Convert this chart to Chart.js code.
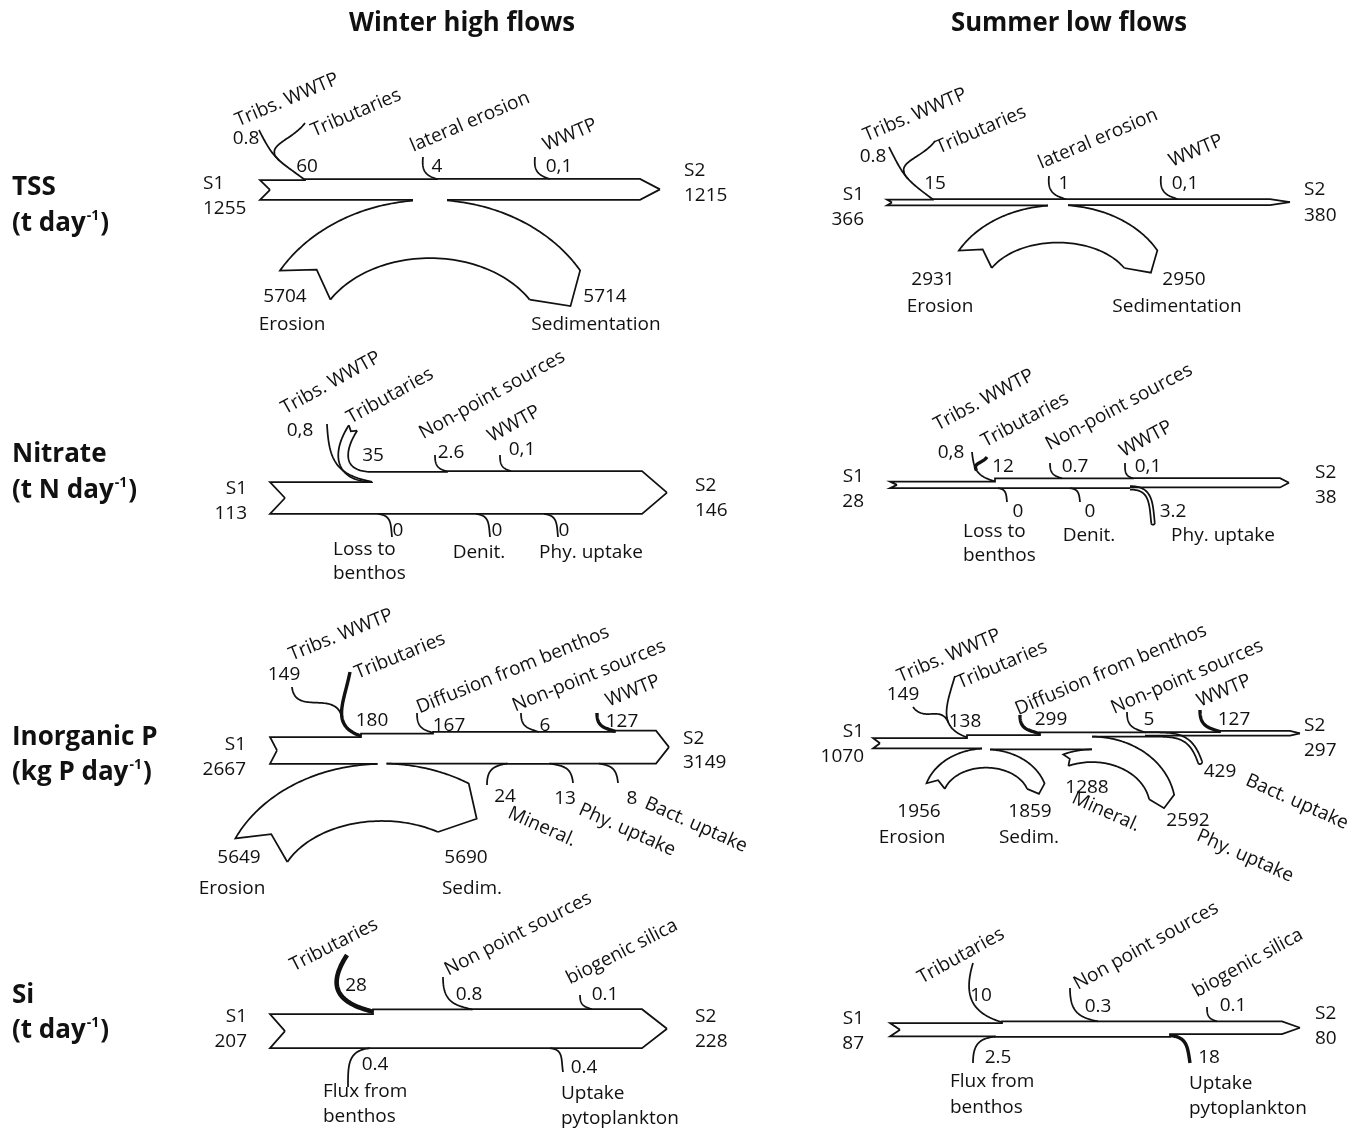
<!DOCTYPE html>
<html>
<head>
<meta charset="utf-8">
<title>Seine river budgets: winter high flows and summer low flows</title>
<script src="https://cdn.jsdelivr.net/npm/chart.js@4.4.1/dist/chart.umd.min.js"></script>
<style>
  html, body { margin: 0; padding: 0; background: #ffffff; }
  #wrap { width: 1349px; height: 1132px; }
  canvas { display: block; }
</style>
</head>
<body>
<div id="wrap"><canvas id="budget" width="1349" height="1132"></canvas></div>
<script>
// ---------------------------------------------------------------
// Flux values (first entry = upstream station S1, last = S2)
// ---------------------------------------------------------------

// TSS, t day-1
const tssNames = ['S1', 'Tribs. WWTP', 'Tributaries', 'lateral erosion', 'WWTP', 'Erosion', 'Sedimentation', 'S2'];
const tssWinterValues = [1255, 0.8, 60, 4, 0.1, 5704, 5714, 1215];
const tssWinterText = ['1255', '0.8', '60', '4', '0,1', '5704', '5714', '1215'];
const tssSummerValues = [366, 0.8, 15, 1, 0.1, 2931, 2950, 380];
const tssSummerText = ['366', '0.8', '15', '1', '0,1', '2931', '2950', '380'];

// Nitrate, t N day-1
const no3Names = ['S1', 'Tribs. WWTP', 'Tributaries', 'Non-point sources', 'WWTP', 'Loss to\nbenthos', 'Denit.', 'Phy. uptake', 'S2'];
const no3WinterValues = [113, 0.8, 35, 2.6, 0.1, 0, 0, 0, 146];
const no3WinterText = ['113', '0,8', '35', '2.6', '0,1', '0', '0', '0', '146'];
const no3SummerValues = [28, 0.8, 12, 0.7, 0.1, 0, 0, 3.2, 38];
const no3SummerText = ['28', '0,8', '12', '0.7', '0,1', '0', '0', '3.2', '38'];

// Inorganic P, kg P day-1
const pNames = ['S1', 'Tribs. WWTP', 'Tributaries', 'Diffusion from benthos', 'Non-point sources', 'WWTP',
                'Erosion', 'Sedim.', 'Mineral.', 'Phy. uptake', 'Bact. uptake', 'S2'];
const pWinterValues = [2667, 149, 180, 167, 6, 127, 5649, 5690, 24, 13, 8, 3149];
const pWinterText = ['2667', '149', '180', '167', '6', '127', '5649', '5690', '24', '13', '8', '3149'];
const pSummerValues = [1070, 149, 138, 299, 5, 127, 1956, 1859, 1288, 2592, 429, 297];
const pSummerText = ['1070', '149', '138', '299', '5', '127', '1956', '1859', '1288', '2592', '429', '297'];

// Si, t day-1
const siNames = ['S1', 'Tributaries', 'Non point sources', 'biogenic silica', 'Flux from\nbenthos', 'Uptake\npytoplankton', 'S2'];
const siWinterValues = [207, 28, 0.8, 0.1, 0.4, 0.4, 228];
const siWinterText = ['207', '28', '0.8', '0.1', '0.4', '0.4', '228'];
const siSummerValues = [87, 10, 0.3, 0.1, 2.5, 18, 80];
const siSummerText = ['87', '10', '0.3', '0.1', '2.5', '18', '80'];

// Column and row headings
const seasonTitles = ['Winter high flows', 'Summer low flows'];
const rowTitles = ['TSS', 'Nitrate', 'Inorganic P', 'Si'];
const rowUnits = ['(t day', '(t N day', '(kg P day', '(t day'];

// ---------------------------------------------------------------
// Layout of every budget diagram (chart units = canvas pixels)
// k : drawn width per unit of flux; widths come from the values above
// ---------------------------------------------------------------
const W = 1349, H = 1132;
const INK = '#111111';
const FAMILY = "'Open Sans', 'Noto Sans', 'DejaVu Sans', sans-serif";
const BODY = 19;
const STROKE = 1.75;
const MIN_H = 3.5;
const MIN_BAND = 3.5;

const panels = [
  { // TSS winter
    names: tssNames, values: tssWinterValues, text: tssWinterText, k: 0.0159, kLoop: 0.0102, rot: -23,
    river: { x0: 260, xEnd: 640, tip: 660, top: 180, notch: 10 },
    s1: { x: 203, y: [184, 209], align: 'left' }, s2: { x: 684, y: [171, 196], align: 'left' },
    flows: [
      { i: 1, at: 305, from: [259, 130], t0: [0.45, 0.9], t1: [0.8, 0.6], val: [246, 139], lab: [287, 100] },
      { i: 2, merge: 1, mt: 0.55, from: [305, 123], t0: [-0.6, 0.8], val: [307, 167], lab: [356, 113] },
      { i: 3, at: 437, from: [423, 157], t0: [-0.1, 1], val: [437, 167], lab: [470, 122] },
      { i: 4, at: 550, from: [535, 157], t0: [-0.1, 1], val: [559, 167], lab: [570, 135] }
    ],
    loops: [
      { iin: 5, iout: 6, cx: 430, gap: 17, ai: 115, bi: 83, thL: -60, thR: 60,
        valIn: [285, 297], valOut: [605, 297], labIn: [292, 325], labOut: [596, 325] }
    ]
  },
  { // TSS summer
    names: tssNames, values: tssSummerValues, text: tssSummerText, k: 0.0159, kLoop: 0.0127, rot: -23,
    river: { x0: 887, xEnd: 1270, tip: 1290, top: 199.5, notch: 5 },
    s1: { x: 864, y: [195, 220], align: 'right' }, s2: { x: 1304, y: [190, 216], align: 'left' },
    flows: [
      { i: 1, at: 933, from: [889, 147], t0: [0.45, 0.9], t1: [0.8, 0.6], val: [873, 157], lab: [915, 115] },
      { i: 2, merge: 1, mt: 0.55, from: [935, 141], t0: [-0.6, 0.8], val: [935, 184], lab: [981, 130] },
      { i: 3, at: 1066, from: [1049, 176], t0: [-0.1, 1], val: [1064, 184], lab: [1098, 139] },
      { i: 4, at: 1178, from: [1161, 176], t0: [-0.1, 1], val: [1185, 184], lab: [1196, 151] }
    ],
    loops: [
      { iin: 5, iout: 6, cx: 1058, gap: 10, ai: 75, bi: 48, thL: -62, thR: 62,
        valIn: [933, 280], valOut: [1184, 280], labIn: [940, 307], labOut: [1177, 307] }
    ]
  },
  { // Nitrate winter
    names: no3Names, values: no3WinterValues, text: no3WinterText, k: 0.283, rot: -29,
    river: { x0: 270, xEnd: 642, tip: 667, top: 482, notch: 15 },
    s1: { x: 247, y: [489, 514], align: 'right' }, s2: { x: 695, y: [486, 511], align: 'left' },
    flows: [
      { i: 1, at: 372, from: [327, 424], t0: [0.05, 1], t1: [1, 0.2], val: [300, 431], lab: [331, 383] },
      { i: 2, at: 372, from: [353, 428], t0: [-0.55, 0.85], t1: [1, 0], tension: 0.6, draw: 'band', val: [373, 456], lab: [390, 396] },
      { i: 3, at: 447, from: [435, 455], val: [451, 453], lab: [492, 395] },
      { i: 4, at: 511, from: [500, 455], val: [522, 450], lab: [514, 424] },
      { i: 5, side: 'bottom', dir: 'out', at: 378, to: [392, 537], val: [398, 531], lines: { x: 333, y: [550, 574], align: 'left' } },
      { i: 6, side: 'bottom', dir: 'out', at: 476, to: [490, 537], val: [497, 531], lines: { x: 479, y: [553] } },
      { i: 7, side: 'bottom', dir: 'out', at: 544, to: [558, 537], val: [564, 531], lines: { x: 591, y: [553] } }
    ]
  },
  { // Nitrate summer
    names: no3Names, values: no3SummerValues, text: no3SummerText, k: 0.24, rot: -28,
    river: { x0: 890, xEnd: 1280, tip: 1289, top: 481.5, notch: 7 },
    s1: { x: 864, y: [477, 502], align: 'right' }, s2: { x: 1315, y: [473, 498], align: 'left' },
    flows: [
      { i: 1, at: 995, from: [972, 452], t0: [0.1, 1], val: [951, 453], lab: [984, 400] },
      { i: 2, merge: 1, mt: 0.45, from: [987, 457], t0: [-0.6, 0.8], draw: 'bold', val: [1003, 467], lab: [1025, 420] },
      { i: 3, at: 1062, from: [1050, 463], val: [1075, 467], lab: [1119, 407] },
      { i: 4, at: 1133, from: [1125, 463], val: [1148, 467], lab: [1146, 439] },
      { i: 5, side: 'bottom', dir: 'out', at: 998, to: [1007, 502], val: [1018, 512], lines: { x: 963, y: [532, 556], align: 'left' } },
      { i: 6, side: 'bottom', dir: 'out', at: 1070, to: [1080, 502], val: [1090, 512], lines: { x: 1089, y: [536] } },
      { i: 7, side: 'bottom', dir: 'out', at: 1130, to: [1153, 523], t0: [1, 0], t1: [0.1, 1], draw: 'band', val: [1173, 512], lines: { x: 1223, y: [536] } }
    ]
  },
  { // Inorganic P winter
    names: pNames, values: pWinterValues, text: pWinterText, k: 0.0101, rot: -22, rotDown: 24,
    river: { x0: 270, xEnd: 656, tip: 669, top: 737, notch: 7 },
    s1: { x: 246, y: [745, 770], align: 'right' }, s2: { x: 683, y: [739, 763], align: 'left' },
    flows: [
      { i: 2, at: 361, from: [350, 672], t0: [-0.2, 1], t1: [1, 0.35], draw: 'bold', val: [372, 721], lab: [400, 656] },
      { i: 1, merge: 2, mt: 0.6, from: [292, 687], t0: [0.1, 1], val: [284, 675], lab: [341, 635] },
      { i: 3, at: 433, from: [417, 713], val: [449, 726], lab: [513, 670] },
      { i: 4, at: 539, from: [521, 713], val: [545, 726], lab: [589, 676] },
      { i: 5, at: 615, from: [597, 713], draw: 'bold', val: [622, 722], lab: [633, 691] },
      { i: 8, side: 'bottom', dir: 'in', at: 507, from: [487, 785], t0: [0, -1], t1: [1, -0.15], val: [505, 797], rlab: [542, 827] },
      { i: 9, side: 'bottom', dir: 'out', at: 550, to: [573, 783], t0: [1, 0.15], val: [565, 799], rlab: [627, 830] },
      { i: 10, side: 'bottom', dir: 'out', at: 599, to: [618, 783], t0: [1, 0.15], val: [632, 799], rlab: [696, 825] }
    ],
    loops: [
      { iin: 6, iout: 7, cx: 382, gap: 4.5, ai: 104, bi: 70, thL: -65.5, thR: 32.5,
        valIn: [239, 858], valOut: [466, 858], labIn: [232, 889], labOut: [472, 889] }
    ]
  },
  { // Inorganic P summer
    names: pNames, values: pSummerValues, text: pSummerText, k: 0.0098, rot: -23, rotDown: 24,
    river: { x0: 873, xEnd: 1290, tip: 1300, top: 738, notch: 7 },
    s1: { x: 864, y: [732, 757], align: 'right' }, s2: { x: 1304, y: [726, 751], align: 'left' },
    flows: [
      { i: 2, at: 967, from: [955, 676], t0: [-0.3, 1], t1: [1, 0.35], val: [965, 722], lab: [1002, 665] },
      { i: 1, merge: 2, mt: 0.65, from: [913, 707], t0: [0.6, 0.8], val: [903, 695], lab: [949, 656] },
      { i: 3, at: 1040, from: [1020, 715], draw: 'bold', val: [1051, 720], lab: [1111, 670] },
      { i: 4, at: 1145, from: [1127, 712], val: [1149, 720], lab: [1187, 677] },
      { i: 5, at: 1220, from: [1200, 710], draw: 'bold', val: [1234, 720], lab: [1224, 691] },
      { i: 10, side: 'bottom', dir: 'out', at: 1145, to: [1200, 762], t0: [1, 0], t1: [0.35, 1], draw: 'band', val: [1220, 772], rlab: [1297, 802] }
    ],
    loops: [
      { iin: 6, iout: 7, cx: 986, gap: 4, ai: 43, bi: 30, thL: -73, thR: 73,
        valIn: [919, 812], valOut: [1030, 812], labIn: [912, 838], labOut: [1029, 838] },
      { iin: 8, iout: 9, cx: 1092, gap: 0, ai: 58, bi: 45, thL: -24, thR: 80,
        valIn: [1087, 788], valOut: [1188, 821], rlabIn: [1106, 812], rlabOut: [1245, 856] }
    ]
  },
  { // Si winter
    names: siNames, values: siWinterValues, text: siWinterText, k: 0.165, rot: -27,
    river: { x0: 270, xEnd: 642, tip: 667, top: 1014, notch: 15 },
    s1: { x: 247, y: [1017, 1042], align: 'right' }, s2: { x: 695, y: [1017, 1042], align: 'left' },
    flows: [
      { i: 1, at: 373, from: [347, 955], t0: [-0.55, 0.85], t1: [1, 0.25], tension: 0.6, draw: 'bold', val: [356, 986], lab: [334, 945] },
      { i: 2, at: 472, from: [443, 977], t0: [0, 1], t1: [1, 0.2], val: [469, 995], lab: [518, 934] },
      { i: 3, at: 592, from: [580, 995], val: [605, 995], lab: [622, 952] },
      { i: 4, side: 'bottom', dir: 'in', at: 370, from: [348, 1087], t0: [0, -1], t1: [1, -0.1], val: [375, 1065], lines: { x: 323, y: [1092, 1117], align: 'left' } },
      { i: 5, side: 'bottom', dir: 'out', at: 550, to: [563, 1072], t0: [1, 0.1], t1: [0.15, 1], val: [584, 1068], lines: { x: 561, y: [1094, 1119], align: 'left' } }
    ]
  },
  { // Si summer
    names: siNames, values: siSummerValues, text: siSummerText, k: 0.155, rot: -29,
    river: { x0: 890, xEnd: 1282, tip: 1300, top: 1023, notch: 10 },
    s1: { x: 864, y: [1019, 1044], align: 'right' }, s2: { x: 1315, y: [1014, 1039], align: 'left' },
    flows: [
      { i: 1, at: 1002, from: [973, 963], t0: [-0.3, 1], t1: [1, 0.3], val: [981, 996], lab: [961, 956] },
      { i: 2, at: 1098, from: [1070, 988], t0: [0, 1], t1: [1, 0.2], val: [1098, 1007], lab: [1146, 946] },
      { i: 3, at: 1217, from: [1207, 1007], val: [1233, 1006], lab: [1248, 963] },
      { i: 4, side: 'bottom', dir: 'in', at: 995, from: [973, 1063], t0: [0, -1], t1: [1, -0.1], val: [998, 1058], lines: { x: 950, y: [1082, 1108], align: 'left' } },
      { i: 5, side: 'bottom', dir: 'out', at: 1170, to: [1190, 1063], t0: [1, 0.1], t1: [0.15, 1], draw: 'bold', val: [1209, 1058], lines: { x: 1189, y: [1084, 1109], align: 'left' } }
    ]
  }
];

const titleLayout = { x: [462, 1069], y: 24, maxW: [226, 236] };
const rowLayout = { x: 12, y: [[188, 224], [455, 491], [738, 773], [996, 1031]] };

// ---------------------------------------------------------------
// Geometry helpers (all in chart units)
// ---------------------------------------------------------------
const unit = v => { const l = Math.hypot(v[0], v[1]) || 1; return [v[0] / l, v[1] / l]; };
function cubic(from, to, t0, t1, tension) {
  const d = Math.hypot(to[0] - from[0], to[1] - from[1]) * (tension || 0.5);
  const a = unit(t0), b = unit(t1);
  return [from, [from[0] + a[0] * d, from[1] + a[1] * d], [to[0] - b[0] * d, to[1] - b[1] * d], to];
}
function bezAt(c, t) {
  const u = 1 - t, w0 = u * u * u, w1 = 3 * u * u * t, w2 = 3 * u * t * t, w3 = t * t * t;
  return [w0 * c[0][0] + w1 * c[1][0] + w2 * c[2][0] + w3 * c[3][0],
          w0 * c[0][1] + w1 * c[1][1] + w2 * c[2][1] + w3 * c[3][1]];
}
function bezTan(c, t) {
  const u = 1 - t;
  const dx = 3 * u * u * (c[1][0] - c[0][0]) + 6 * u * t * (c[2][0] - c[1][0]) + 3 * t * t * (c[3][0] - c[2][0]);
  const dy = 3 * u * u * (c[1][1] - c[0][1]) + 6 * u * t * (c[2][1] - c[1][1]) + 3 * t * t * (c[3][1] - c[2][1]);
  return unit([dx, dy]);
}
function sampleBez(c, n, off) {
  const pts = [];
  for (let j = 0; j <= n; j++) {
    const t = j / n, p = bezAt(c, t);
    if (off) { const tg = bezTan(c, t); pts.push([p[0] - tg[1] * off, p[1] + tg[0] * off]); }
    else pts.push(p);
  }
  return pts;
}

// ---------------------------------------------------------------
// Drawing plugin: rivers, side flows, exchange loops and labels
// ---------------------------------------------------------------
const budgetPlugin = {
  id: 'riverBudget',
  afterDatasetsDraw(chart) {
    const ctx = chart.ctx, sx = chart.scales.x, sy = chart.scales.y;
    const X = v => sx.getPixelForValue(v), Y = v => sy.getPixelForValue(v);

    const stroke = (pts, lw) => {
      ctx.beginPath();
      pts.forEach((p, j) => j ? ctx.lineTo(X(p[0]), Y(p[1])) : ctx.moveTo(X(p[0]), Y(p[1])));
      ctx.lineWidth = lw || STROKE;
      ctx.stroke();
    };
    const text = (s, x, y, o = {}) => {
      ctx.save();
      ctx.font = `${o.weight || 'normal'} ${o.size || BODY}px ${FAMILY}`;
      ctx.fillStyle = INK;
      ctx.textAlign = o.align || 'center';
      ctx.textBaseline = o.base || 'middle';
      ctx.translate(X(x), Y(y));
      if (o.rot) ctx.rotate(o.rot * Math.PI / 180);
      if (o.maxW) ctx.fillText(s, 0, 0, o.maxW); else ctx.fillText(s, 0, 0);
      ctx.restore();
    };

    ctx.save();
    ctx.strokeStyle = INK;
    ctx.lineJoin = 'miter';
    ctx.miterLimit = 6;
    ctx.lineCap = 'butt';

    panels.forEach(P => {
      const v = P.values, k = P.k, r = P.river;
      const flowByIndex = i => P.flows.find(g => g.i === i);
      P.flows.forEach(f => {
        f._par = f.merge != null ? flowByIndex(f.merge) : null;
        f._at = f._par ? f._par.at : f.at;
        f._w = v[f.i] * k;
        f._side = f.side || 'top';
      });

      // river outline, stepping where flows join or leave
      const events = [];
      P.flows.forEach((f, n) => events.push({ x: f._at, n, f }));
      (P.loops || []).forEach((L, n) => events.push({ x: L.cx, n: 100 + n, L }));
      events.sort((a, b) => a.x - b.x || a.n - b.n);
      let top = r.top, bot = r.top + v[0] * k;
      const mid0 = (top + bot) / 2;
      let topLine = [[r.x0 + r.notch, mid0], [r.x0, top]];
      let botLine = [[r.x0 + r.notch, mid0], [r.x0, bot]];
      const parts = [];
      events.forEach(e => {
        if (e.L) {
          const L = e.L;
          botLine.push([L.cx - L.gap, bot]); parts.push(botLine);
          L._yBL = bot;
          bot = Math.max(bot + (v[L.iin] - v[L.iout]) * k, top + MIN_H);
          L._yBR = bot;
          botLine = [[L.cx + L.gap, bot]];
          return;
        }
        const f = e.f, open = f.draw === 'band';
        if (f._side === 'top') {
          f._y = top;
          topLine.push([e.x, top]);
          top -= f._w;
          if (open) { parts.push(topLine); topLine = [[e.x, top]]; } else topLine.push([e.x, top]);
        } else {
          f._y = bot;
          botLine.push([e.x, bot]);
          bot = f.dir === 'in' ? bot + f._w : Math.max(bot - f._w, top + MIN_H);
          if (open) { parts.push(botLine); botLine = [[e.x, bot]]; } else botLine.push([e.x, bot]);
        }
      });
      const midN = (top + bot) / 2;
      topLine.push([r.xEnd, top], [r.tip, midN]);
      botLine.push([r.xEnd, bot], [r.tip, midN]);
      parts.push(topLine, botLine);
      parts.forEach(p => stroke(p));

      // exchange loops (e.g. erosion feeding in, sedimentation leaving)
      (P.loops || []).forEach(L => {
        const kl = P.kLoop || k;
        const wIn = v[L.iin] * kl;
        const cy = L._yBL + L.bi + wIn;
        const aoL = L.ai + wIn, boL = L.bi + wIn;
        const boR = cy - L._yBR, aoR = L.ai + (boR - L.bi);
        const wOut = boR - L.bi;
        const thL = L.thL * Math.PI / 180, thR = L.thR * Math.PI / 180;
        const E = (a, b, t) => [L.cx + a * Math.sin(t), cy - b * Math.cos(t)];
        const arc = (a, b, t0, t1) => { const pts = []; for (let j = 0; j <= 60; j++) pts.push(E(a, b, t0 + (t1 - t0) * j / 60)); return pts; };
        const gL = -Math.asin(Math.min(1, L.gap / aoL)), gR = Math.asin(Math.min(1, L.gap / aoR));
        const tang = (t, a, b) => unit([a * Math.cos(t), b * Math.sin(t)]);
        // tail end (inflow side)
        const oL = E(aoL, boL, thL), iL = E(L.ai, L.bi, thL);
        const tL = tang(thL, (aoL + L.ai) / 2, (boL + L.bi) / 2);
        const notch = [(oL[0] + iL[0]) / 2 + tL[0] * 0.33 * wIn, (oL[1] + iL[1]) / 2 + tL[1] * 0.33 * wIn];
        stroke(arc(aoL, boL, gL, thL).concat([notch, iL]));
        stroke(arc(L.ai, L.bi, thL, thR));
        // head end (outflow side)
        const oR = E(aoR, boR, thR), iR = E(L.ai, L.bi, thR);
        const tR = tang(thR, (aoR + L.ai) / 2, (boR + L.bi) / 2);
        const tip = [(oR[0] + iR[0]) / 2 + tR[0] * 0.45 * wOut, (oR[1] + iR[1]) / 2 + tR[1] * 0.45 * wOut];
        stroke(arc(aoR, boR, gR, thR).concat([tip, iR]));

        if (L.valIn) text(P.text[L.iin], L.valIn[0], L.valIn[1]);
        if (L.valOut) text(P.text[L.iout], L.valOut[0], L.valOut[1]);
        if (L.labIn) text(P.names[L.iin], L.labIn[0], L.labIn[1]);
        if (L.labOut) text(P.names[L.iout], L.labOut[0], L.labOut[1]);
        if (L.rlabIn) text(P.names[L.iin], L.rlabIn[0], L.rlabIn[1], { rot: P.rotDown });
        if (L.rlabOut) text(P.names[L.iout], L.rlabOut[0], L.rlabOut[1], { rot: P.rotDown });
      });

      // side flows: parents first so merged lines can attach to them
      const ordered = P.flows.filter(f => !f._par).concat(P.flows.filter(f => f._par));
      ordered.forEach(f => {
        let from, to, t0, t1;
        const inflow = f._side === 'top' || f.dir === 'in';
        if (f._side === 'top') {
          from = f.from; t0 = f.t0 || [0, 1];
          if (f._par) { to = bezAt(f._par._c, f.mt); t1 = bezTan(f._par._c, f.mt); }
          else { to = [f._at, f._y - f._w / 2]; t1 = f.t1 || [1, 0.3]; }
        } else if (f.dir === 'in') {
          from = f.from; t0 = f.t0 || [0, -1];
          to = [f._at, f._y + f._w / 2]; t1 = f.t1 || [1, -0.1];
        } else {
          from = [f._at, f._y - f._w / 2]; t0 = f.t0 || [1, 0.1];
          to = f.to; t1 = f.t1 || [0.1, 1];
        }
        const c = cubic(from, to, t0, t1, f.tension);
        f._c = c;
        if (f.draw === 'band') {
          const w = Math.max(MIN_BAND, f._w);
          const A = sampleBez(c, 48, w / 2), B = sampleBez(c, 48, -w / 2);
          stroke(A); stroke(B);
          if (inflow) {
            const tg = bezTan(c, 0), p = c[0];
            stroke([A[0], [p[0] + tg[0] * w * 0.4, p[1] + tg[1] * w * 0.4], B[0]]);
          } else {
            const tg = bezTan(c, 1), p = c[3], nr = [-tg[1], tg[0]], cap = [];
            for (let j = 0; j <= 16; j++) {
              const ph = Math.PI * j / 16;
              cap.push([p[0] + nr[0] * w / 2 * Math.cos(ph) + tg[0] * w / 2 * Math.sin(ph),
                        p[1] + nr[1] * w / 2 * Math.cos(ph) + tg[1] * w / 2 * Math.sin(ph)]);
            }
            stroke(cap);
          }
        } else {
          const lw = f.draw === 'bold' ? Math.max(3.4, f._w) : Math.max(STROKE, f._w);
          stroke(sampleBez(c, 48), lw);
        }

        if (f.val) text(P.text[f.i], f.val[0], f.val[1]);
        if (f.lab) text(P.names[f.i], f.lab[0], f.lab[1], { rot: P.rot });
        if (f.rlab) text(P.names[f.i], f.rlab[0], f.rlab[1], { rot: P.rotDown });
        if (f.lines) {
          P.names[f.i].split('\n').forEach((s, j) =>
            text(s, f.lines.x, f.lines.y[j], { align: f.lines.align || 'center' }));
        }
      });

      // station labels
      const n = v.length - 1;
      text('S1', P.s1.x, P.s1.y[0], { align: P.s1.align });
      text(P.text[0], P.s1.x, P.s1.y[1], { align: P.s1.align });
      text('S2', P.s2.x, P.s2.y[0], { align: P.s2.align });
      text(P.text[n], P.s2.x, P.s2.y[1], { align: P.s2.align });
    });

    // column headings
    seasonTitles.forEach((t, j) =>
      text(t, titleLayout.x[j], titleLayout.y, { weight: 'bold', size: 26, maxW: titleLayout.maxW[j] }));

    // row headings with units (superscript -1)
    const RS = 26, SS = 14;
    rowTitles.forEach((t, j) => {
      const [y1, y2] = rowLayout.y[j];
      text(t, rowLayout.x, y1, { weight: 'bold', size: RS, align: 'left' });
      ctx.save();
      ctx.font = `bold ${RS}px ${FAMILY}`;
      const w1 = ctx.measureText(rowUnits[j]).width;
      ctx.font = `bold ${SS}px ${FAMILY}`;
      const w2 = ctx.measureText('-1').width;
      ctx.restore();
      text(rowUnits[j], rowLayout.x, y2, { weight: 'bold', size: RS, align: 'left' });
      text('-1', rowLayout.x + w1 + 1, y2 - 8, { weight: 'bold', size: SS, align: 'left' });
      text(')', rowLayout.x + w1 + w2 + 2, y2, { weight: 'bold', size: RS, align: 'left' });
    });
    ctx.restore();
  }
};

new Chart(document.getElementById('budget'), {
  type: 'scatter',
  data: { datasets: [{ data: [], pointRadius: 0 }] },
  options: {
    responsive: false,
    animation: false,
    devicePixelRatio: 1,
    events: [],
    layout: { padding: 0 },
    plugins: { legend: { display: false }, tooltip: { enabled: false } },
    scales: {
      x: { type: 'linear', min: 0, max: W, display: false },
      y: { type: 'linear', min: 0, max: H, reverse: true, display: false }
    }
  },
  plugins: [budgetPlugin]
});
</script>
</body>
</html>
